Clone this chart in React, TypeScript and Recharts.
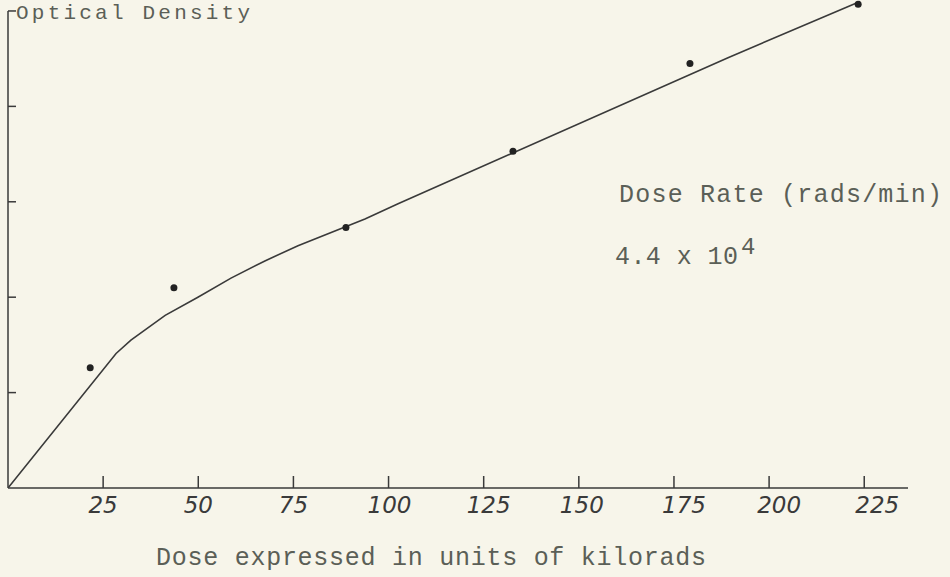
import { ComposedChart, Line, Scatter, XAxis, YAxis, ReferenceLine } from 'recharts';

// measured points (dose in kilorads, optical density)
const measuredDose = [21.6, 43.6, 88.8, 132.7, 179.2, 223.4];
const measuredDensity = [1.26, 2.1, 2.73, 3.53, 4.45, 5.07];

// hand-drawn fitted curve
const curveDose = [0, 28.4, 32.3, 41.3, 49.9, 58.6, 67.5, 76.2, 93.8, 102.5, 189.2, 223.9];
const curveDensity = [0, 1.41, 1.55, 1.81, 2.0, 2.2, 2.38, 2.54, 2.82, 2.98, 4.51, 5.1];

const doseTicks = [25, 50, 75, 100, 125, 150, 175, 200, 225];
const densityTicks = [1, 2, 3, 4, 5];

const paper = '#f7f5ea';
const ink = '#3a3a3a';
const typeInk = '#5b5f57';
const typeFont = '"Liberation Mono", "DejaVu Sans Mono", monospace';

// handwritten labels drift a little right of their ticks
const labelNudge: Record<number, number> = { 100: 1, 125: 5, 150: 3, 175: 10, 200: 10, 225: 13 };

const points = measuredDose.map((d, i) => ({ dose: d, density: measuredDensity[i] }));
const curve = curveDose.map((d, i) => ({ dose: d, density: curveDensity[i] }));

// tick mark points up into the plot, label sits below the axis
function DoseTick(props: any) {
    const { x, y, payload } = props;
    return (
        <g>
            <line x1={x} y1={y} x2={x} y2={y - 12} stroke={ink} strokeWidth={1.5} />
            <text
                x={x + (labelNudge[payload.value] || 0)}
                y={y + 25}
                textAnchor="middle"
                fontFamily='"DejaVu Sans", sans-serif'
                fontStyle="italic"
                fontSize={23}
                fill={ink}
            >
                {payload.value}
            </text>
        </g>
    );
}

export default function App() {
    return (
        <div style={{ position: 'absolute', left: 0, top: 0, width: 950, height: 577, background: paper }}>
            <ComposedChart
                width={950}
                height={577}
                margin={{ top: 0, right: 42, left: 8, bottom: 0 }}
            >
                <XAxis
                    type="number"
                    dataKey="dose"
                    domain={[0, 236.5]}
                    ticks={doseTicks}
                    height={89}
                    stroke={ink}
                    strokeWidth={1.5}
                    tickLine={false}
                    tickSize={0}
                    tickMargin={0}
                    tick={<DoseTick />}
                    allowDataOverflow
                />
                <YAxis
                    type="number"
                    dataKey="density"
                    domain={[0, 5.115]}
                    width={0}
                    axisLine={false}
                    tickLine={false}
                    tick={false}
                    allowDataOverflow
                />
                <ReferenceLine
                    segment={[{ x: 0, y: 0 }, { x: 0, y: 5 }]}
                    stroke={ink}
                    strokeWidth={1.5}
                />
                {densityTicks.map((v) => (
                    <ReferenceLine
                        key={'yt' + v}
                        segment={[{ x: 0, y: v }, { x: 2.1, y: v }]}
                        stroke={ink}
                        strokeWidth={1.5}
                    />
                ))}
                <Line
                    data={curve}
                    dataKey="density"
                    type="linear"
                    stroke={ink}
                    strokeWidth={1.6}
                    dot={false}
                    activeDot={false}
                    isAnimationActive={false}
                />
                <Scatter
                    data={points}
                    dataKey="density"
                    fill="#222"
                    shape={(p: any) => <circle cx={p.cx} cy={p.cy} r={3.5} fill="#222" />}
                    isAnimationActive={false}
                />
                <text x={16} y={19} fontFamily={typeFont} fontSize={21} fill={typeInk} textLength={234} lengthAdjust="spacing">
                    Optical Density
                </text>
                <text x={619} y={202} fontFamily={typeFont} fontSize={25} fill={typeInk} textLength={323} lengthAdjust="spacing">
                    Dose Rate (rads/min)
                </text>
                <text x={615} y={264} fontFamily={typeFont} fontSize={25} fill={typeInk} textLength={123} lengthAdjust="spacing">
                    4.4 x 10
                </text>
                <text x={741} y={254} fontFamily={typeFont} fontSize={24} fill={typeInk}>
                    4
                </text>
                <text x={156} y={565} fontFamily={typeFont} fontSize={25} fill={typeInk} textLength={550} lengthAdjust="spacing">
                    Dose expressed in units of kilorads
                </text>
            </ComposedChart>
        </div>
    );
}
